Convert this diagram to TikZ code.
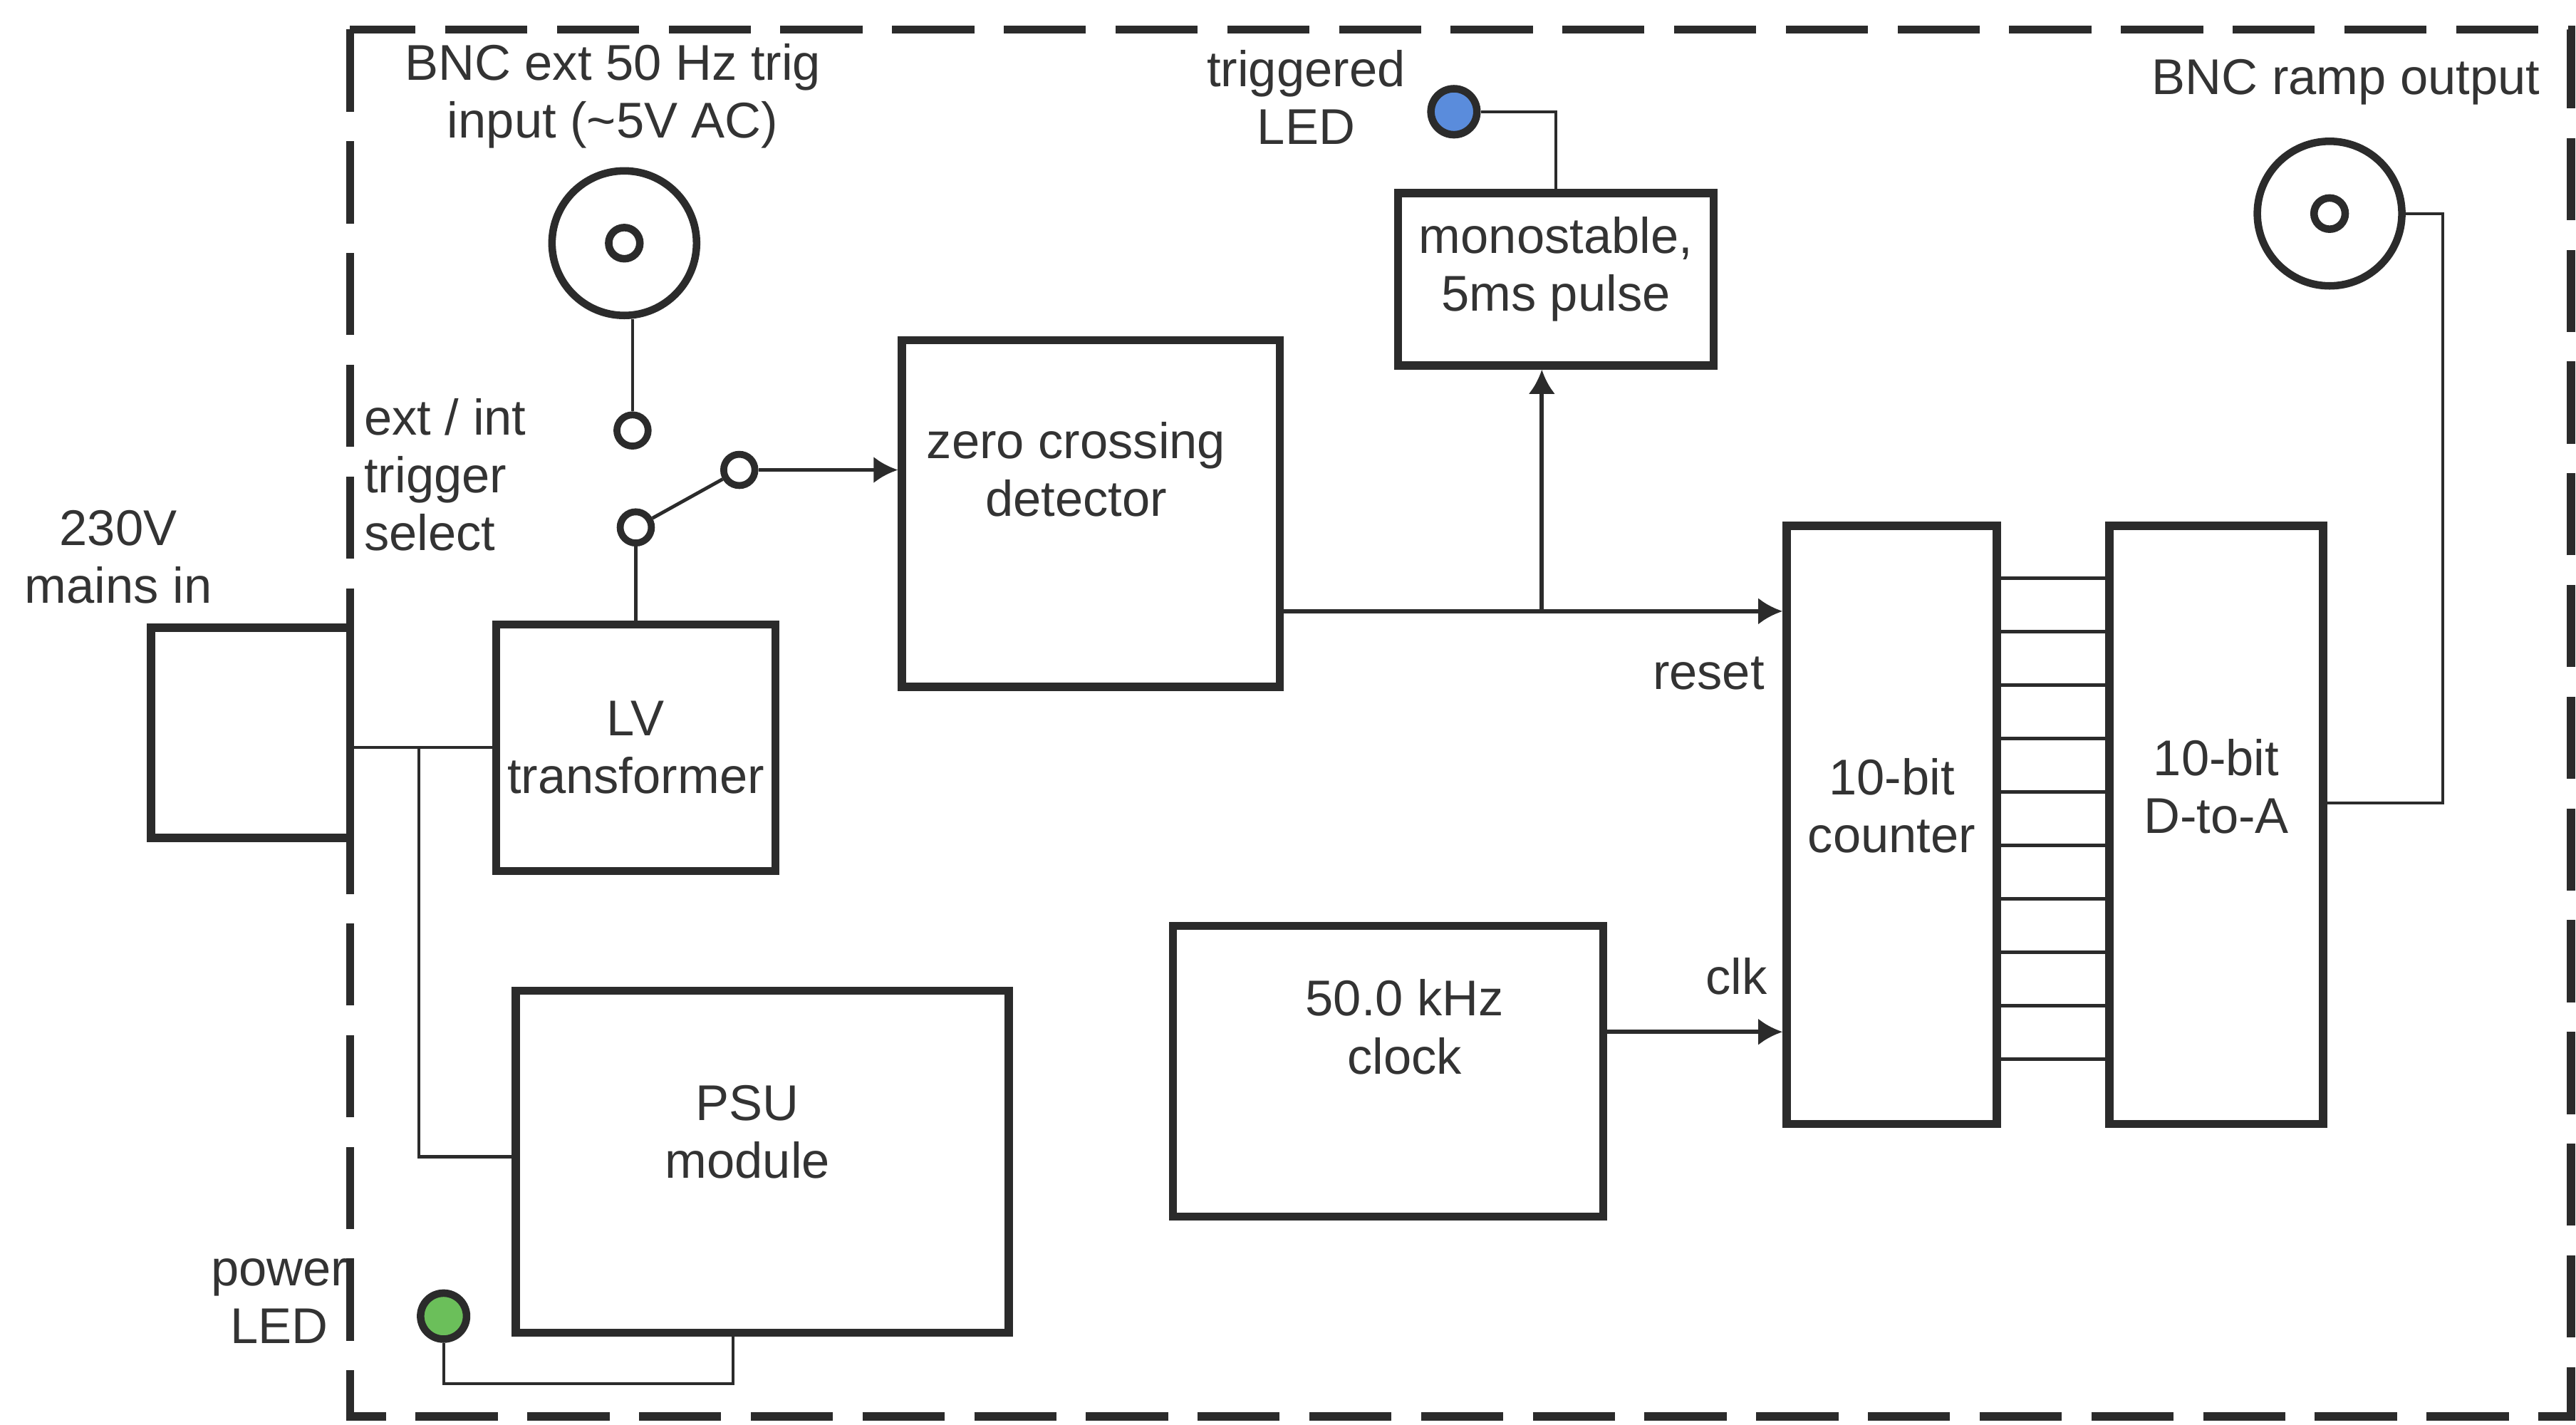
\documentclass[tikz,border=0pt]{standalone}
\usepackage{fontspec}
\setmainfont{Liberation Sans}
\usepackage{tikz}
\usetikzlibrary{arrows.meta,calc,positioning}

\definecolor{ink}{HTML}{2B2B2B}
\definecolor{txtgray}{HTML}{333333}
\definecolor{ledblue}{HTML}{5A8CDC}
\definecolor{ledgreen}{HTML}{6BBF5A}

\begin{document}
\begin{tikzpicture}[
    every node/.style={font=\fontsize{8.7}{10}\selectfont, text=txtgray, align=center, inner sep=0pt},
    blk/.style={rectangle, draw=ink, line width=1.4pt},
    wire/.style={draw=ink, line width=0.5pt},
    sig/.style={draw=ink, line width=0.7pt, -{Latex[length=4.2pt,width=4.6pt]}},
    term/.style={circle, draw=ink, line width=1.2pt, minimum size=0.19cm},
    bnc/.style={circle, draw=ink, line width=1.3pt, minimum size=0.88cm},
    pin/.style={circle, draw=ink, line width=1.3pt, minimum size=0.19cm},
    led/.style={circle, draw=ink, line width=1.3pt, minimum size=0.28cm},
    border/.style={draw=ink, line width=1.4pt, dash pattern=on 5mm off 1.8mm}
]
    \useasboundingbox (0,0) rectangle (15.68,-8.67);
    \draw[border] (2.13,-0.18) rectangle (15.65,-8.62);

    \node[blk, minimum width=1.21cm, minimum height=1.28cm] (mains) at (1.525,-4.46) {};
    \node[blk, minimum width=1.70cm, minimum height=1.50cm] (lv) at (3.87,-4.55) {LV\\transformer};
    \node[blk, minimum width=3.00cm, minimum height=2.08cm,
        label={[xshift=-0.09cm, yshift=0.18cm]center:{PSU\\module}}] (psu) at (4.64,-7.07) {};
    \node[blk, minimum width=2.30cm, minimum height=2.11cm,
        label={[xshift=-0.09cm, yshift=0.27cm]center:{zero crossing\\detector}}] (zcd) at (6.64,-3.125) {};
    \node[blk, minimum width=1.92cm, minimum height=1.05cm,
        label={[yshift=0.06cm]center:{monostable,\\5ms pulse}}] (mono) at (9.47,-1.70) {};
    \node[blk, minimum width=2.62cm, minimum height=1.77cm,
        label={[xshift=0.1cm, yshift=0.27cm]center:{50.0 kHz\\clock}}] (clock) at (8.45,-6.52) {};
    \node[blk, minimum width=1.28cm, minimum height=3.64cm,
        label={[yshift=0.115cm]center:{10-bit\\counter}}] (counter) at (11.515,-5.02) {};
    \node[blk, minimum width=1.30cm, minimum height=3.64cm,
        label={[yshift=0.235cm]center:{10-bit\\D-to-A}}] (dtoa) at (13.49,-5.02) {};

    \node[bnc] (bncin) at (3.80,-1.48) {};
    \node[pin] (bncinpin) at (bncin) {};
    \node[bnc] (bncout) at (14.18,-1.30) {};
    \node[pin] (bncoutpin) at (bncout) {};
    \node[term] (swext) at (3.85,-2.62) {};
    \node[term] (swint) at (3.87,-3.21) {};
    \node[term] (swout) at (4.50,-2.86) {};
    \node[led, fill=ledblue] (trigled) at (8.85,-0.68) {};
    \node[led, fill=ledgreen] (pwrled) at (2.70,-8.01) {};

    \node (mainslbl) at (0.72,-3.39) {230V\\mains in};
    \node (bncinlbl) at (3.73,-0.585) {BNC ext 50 Hz trig\\input (\textasciitilde5V AC)};
    \node (trigledlbl) at (7.95,-0.59) {triggered\\LED};
    \node (bncoutlbl) at (14.28,-0.50) {BNC ramp output};
    \node[align=left, anchor=west] (swlbl) at (2.21,-2.89) {ext / int\\trigger\\select};
    \node (pwrledlbl) at (1.70,-7.92) {power\\LED};
    \node (resetlbl) at (10.40,-4.10) {reset};
    \node (clklbl) at (10.57,-5.94) {clk};

    \coordinate (tap) at (2.55,-4.55);
    \coordinate (split) at (9.385,-3.72);
    \coordinate (pwrret) at (4.46,-8.42);
    \coordinate (rampret) at (14.87,-4.885);

    \draw[wire] (mains.east |- lv.west) -- (lv.west);
    \draw[wire] (tap) |- (psu.west |- 0,-7.04);
    \draw[wire] (pwrled.south) |- (pwrret) -- (pwrret |- psu.south);
    \draw[wire] (swext.north) -- (swext.north |- bncin.south);
    \draw[wire, line width=0.6pt] (swint) -- (swout);
    \draw[wire] (swint.south) -- (swint.south |- lv.north);
    \draw[sig] (swout) -- (swout -| zcd.west);
    \draw[sig] (zcd.east |- split) -- (split -| counter.west);
    \draw[sig] (split) -- (split |- mono.south);
    \draw[wire] (trigled.east) -| (mono.north);
    \draw[sig] (clock.east |- 0,-6.28) -- (counter.west |- 0,-6.28);
    \foreach \i in {0,...,9}
        \draw[wire, line width=0.6pt] ([yshift={-3.44mm-\i*3.25mm}]counter.north east) -- ([yshift={-3.44mm-\i*3.25mm}]dtoa.north west);
    \draw[wire] (bncout.east) -| (rampret) -- (rampret -| dtoa.east);

\end{tikzpicture}
\end{document}
